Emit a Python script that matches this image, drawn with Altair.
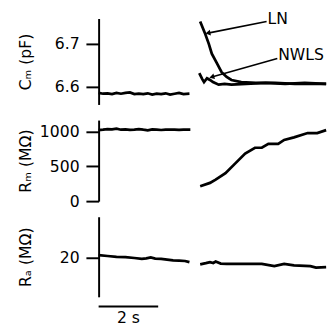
import altair as alt
import pandas as pd

# ---- Cm (pF) ----
cm_left_t = [0.0, 0.15, 0.3, 0.45, 0.6, 0.75, 0.9, 1.05, 1.2, 1.35, 1.5, 1.65, 1.8, 1.95, 2.1, 2.25, 2.4, 2.55, 2.7, 2.85, 3.05]
cm_left = [6.586, 6.584, 6.585, 6.583, 6.586, 6.584, 6.586, 6.587, 6.583, 6.584, 6.583, 6.585, 6.582, 6.584, 6.583, 6.585, 6.582, 6.584, 6.586, 6.583, 6.584]
ln_t = [3.41, 3.57, 3.70, 3.80, 3.97, 4.13, 4.30, 4.46, 4.79, 5.28, 5.93, 6.59, 7.64]
ln_cm = [6.752, 6.725, 6.700, 6.677, 6.655, 6.634, 6.623, 6.616, 6.611, 6.609, 6.609, 6.607, 6.607]
nwls_t = [3.38, 3.48, 3.54, 3.64, 3.74, 3.84, 4.03, 4.23, 4.46, 4.95, 5.61, 6.26, 6.92, 7.64]
nwls_cm = [6.632, 6.618, 6.611, 6.620, 6.616, 6.611, 6.605, 6.607, 6.605, 6.607, 6.609, 6.607, 6.609, 6.607]

# annotations (label, text anchor, arrow start, arrow tip)
ann_label = ["LN", "NWLS"]
ann_text_t = [5.67, 6.03]
ann_text_v = [6.757, 6.675]
ann_from_t = [5.64, 6.00]
ann_from_v = [6.752, 6.666]
ann_to_t = [3.67, 3.80]
ann_to_v = [6.725, 6.623]

# ---- Rm (MOhm) ----
rm_left_t = [0.0, 0.15, 0.3, 0.45, 0.6, 0.75, 0.9, 1.05, 1.2, 1.35, 1.5, 1.65, 1.8, 1.95, 2.1, 2.25, 2.4, 2.55, 2.7, 2.85, 3.08]
rm_left = [1025, 1030, 1040, 1035, 1045, 1030, 1035, 1028, 1032, 1040, 1030, 1022, 1035, 1030, 1026, 1032, 1030, 1030, 1028, 1030, 1030]
rm_right_t = [3.41, 3.74, 3.93, 4.26, 4.59, 4.92, 5.25, 5.48, 5.70, 6.03, 6.23, 6.56, 7.02, 7.34, 7.64]
rm_right = [215, 263, 310, 404, 545, 686, 770, 770, 826, 826, 883, 920, 982, 982, 1024]

# ---- Ra (MOhm) ----
ra_left_t = [0.0, 0.3, 0.6, 0.9, 1.2, 1.45, 1.6, 1.75, 1.9, 2.1, 2.3, 2.5, 2.7, 2.9, 3.05]
ra_left = [21.4, 21.0, 20.6, 20.4, 20.0, 19.6, 19.8, 20.3, 19.7, 19.6, 19.2, 18.8, 18.7, 18.5, 17.9]
ra_right_t = [3.41, 3.60, 3.74, 3.85, 3.93, 4.10, 4.30, 4.72, 5.48, 5.90, 6.23, 6.56, 7.11, 7.30, 7.64]
ra_right = [16.8, 17.4, 17.9, 17.5, 18.2, 17.2, 17.1, 17.1, 17.1, 16.0, 17.1, 16.3, 15.9, 15.2, 15.4]

scale_bar_t = [0.0]
scale_bar_t2 = [2.0]
scale_bar_label = ["2 s"]

FONT = "DejaVu Sans"
W = 233
XDOM = [0, 7.64]


def series_df(pairs):
    frames = []
    for name, t, v in pairs:
        frames.append(pd.DataFrame({"t": t, "v": v, "s": name}))
    return pd.concat(frames, ignore_index=True)


def xenc(field="t"):
    return alt.X(f"{field}:Q", scale=alt.Scale(domain=XDOM, nice=False, zero=False), axis=None)


def yenc(field, domain, values, title, fmt):
    return alt.Y(f"{field}:Q", scale=alt.Scale(domain=domain, nice=False, zero=False),
                 axis=alt.Axis(values=values, format=fmt, title=title, titleX=-67))


def trace_layer(df, domain, values, title, fmt):
    return alt.Chart(df).mark_line(color="black", strokeWidth=2.8, clip=False).encode(
        x=xenc(), y=yenc("v", domain, values, title, fmt), detail="s:N")


# Cm panel
cm_dom = [6.559, 6.759]
cm_vals = [6.6, 6.7]
cm_title = "Cₘ (pF)"
cm_df = series_df([("left", cm_left_t, cm_left), ("LN", ln_t, ln_cm), ("NWLS", nwls_t, nwls_cm)])
ann_df = pd.DataFrame({"label": ann_label, "tx": ann_text_t, "v": ann_text_v,
                       "t1": ann_from_t, "v1": ann_from_v, "t2": ann_to_t, "v2": ann_to_v})

cm_lines = trace_layer(cm_df, cm_dom, cm_vals, cm_title, ".1f")
cm_rules = alt.Chart(ann_df).mark_rule(color="black", strokeWidth=1.6, clip=False).encode(
    x=xenc("t1"), x2="t2:Q", y=yenc("v1", cm_dom, cm_vals, cm_title, ".1f"), y2="v2:Q")
cm_text = alt.Chart(ann_df).mark_text(align="left", baseline="middle", fontSize=16, font=FONT,
                                      color="black", clip=False).encode(
    x=xenc("tx"), y=yenc("v", cm_dom, cm_vals, cm_title, ".1f"), text="label:N")
cm_head1 = alt.Chart(ann_df).transform_filter(alt.datum.label == "LN").mark_point(
    shape="triangle-left", filled=True, size=35, color="black", opacity=1, angle=349, clip=False).encode(
    x=xenc("t2"), y=yenc("v2", cm_dom, cm_vals, cm_title, ".1f"))
cm_head2 = alt.Chart(ann_df).transform_filter(alt.datum.label == "NWLS").mark_point(
    shape="triangle-left", filled=True, size=35, color="black", opacity=1, angle=344, clip=False).encode(
    x=xenc("t2"), y=yenc("v2", cm_dom, cm_vals, cm_title, ".1f"))
cm_panel = alt.layer(cm_lines, cm_rules, cm_head1, cm_head2, cm_text).properties(width=W, height=88)

# Rm panel
rm_dom = [0, 1169]
rm_df = series_df([("left", rm_left_t, rm_left), ("right", rm_right_t, rm_right)])
rm_panel = trace_layer(rm_df, rm_dom, [0, 500, 1000], "Rₘ (MΩ)", "d").properties(width=W, height=83)

# Ra panel
ra_dom = [0.6, 40.6]
ra_df = series_df([("left", ra_left_t, ra_left), ("right", ra_right_t, ra_right)])
ra_lines = trace_layer(ra_df, ra_dom, [20], "Rₐ (MΩ)", "d")
bar_df = pd.DataFrame({"t": scale_bar_t, "t2": scale_bar_t2, "label": scale_bar_label})
bar_df["tm"] = (bar_df["t"] + bar_df["t2"]) / 2
ra_bar = alt.Chart(bar_df).mark_rule(color="black", strokeWidth=2, clip=False).encode(
    x=xenc("t"), x2="t2:Q", y=alt.value(92))
ra_bar_text = alt.Chart(bar_df).mark_text(align="center", baseline="top", fontSize=16, font=FONT,
                                          color="black", clip=False).encode(
    x=xenc("tm"), y=alt.value(96), text="label:N")
ra_panel = alt.layer(ra_lines, ra_bar, ra_bar_text).properties(width=W, height=82)

chart = alt.vconcat(cm_panel, rm_panel, ra_panel, spacing=16, bounds="flush").configure_view(
    stroke=None
).configure_axis(
    domainColor="black", domainWidth=2, tickColor="black", tickWidth=2, tickSize=13,
    labelFontSize=16, labelFont=FONT, labelColor="black", labelPadding=7,
    titleFontSize=16, titleFont=FONT, titleFontWeight="normal", titleColor="black", grid=False
).properties(
    padding={"left": 18, "top": 7, "right": 0, "bottom": 0}, background="white"
)

chart.save("out.html", embed_options={"renderer": "svg", "actions": False})
